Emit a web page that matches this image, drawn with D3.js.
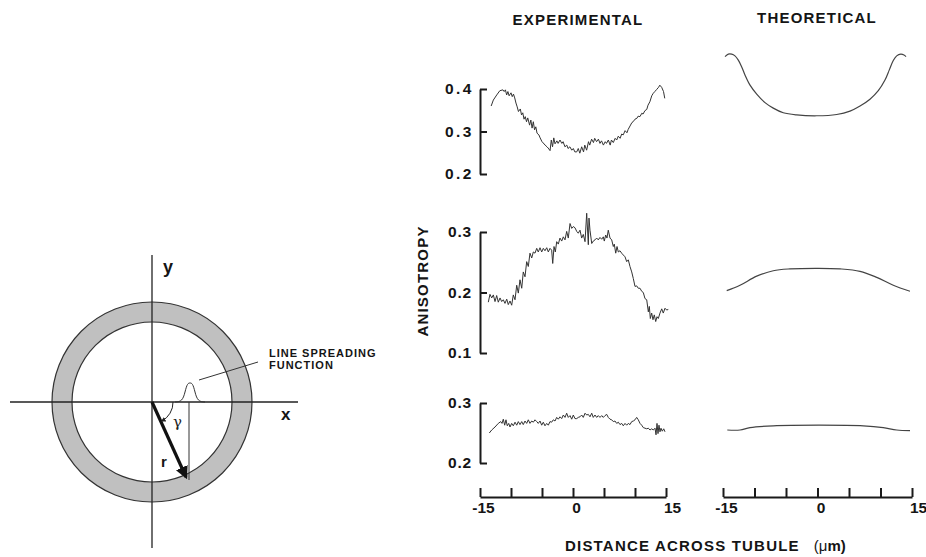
<!doctype html>
<html lang="en">
<head>
    <meta charset="UTF-8" />
    <title>Anisotropy across tubule</title>
    <script src="https://d3js.org/d3.v7.min.js"></script>
    <style>
        body, html {
            margin: 0;
            padding: 0;
            background: #fff;
            overflow: hidden;
        }
        svg {
            display: block;
            font-family: "Liberation Sans", Arial, Helvetica, sans-serif;
        }
        .lbl {
            font-weight: bold;
            fill: #151515;
        }
        .axis path, .axis line {
            stroke: #1a1a1a;
            stroke-width: 2px;
        }
        .axis text {
            font-family: "Liberation Sans", Arial, sans-serif;
            font-weight: bold;
            font-size: 15.5px;
            fill: #151515;
        }
        .trace {
            fill: none;
            stroke: #333;
            stroke-width: 1px;
        }
        .theory {
            fill: none;
            stroke: #444;
            stroke-width: 1.2px;
        }
    </style>
</head>
<body>
    <svg id="chart" width="926" height="557"></svg>

    <script>
        // distance across tubule (um) vs anisotropy
        const expTop = [
            [-13.2, 0.360], [-12.85, 0.374], [-12.3, 0.386], [-11.8, 0.396], [-11.3, 0.398], [-11.1, 0.394],
            [-10.9, 0.398], [-10.7, 0.386], [-10.5, 0.394], [-10.3, 0.384], [-10.0, 0.391], [-9.8, 0.382],
            [-9.6, 0.388], [-9.4, 0.379], [-9.2, 0.367], [-9.0, 0.358], [-8.8, 0.347], [-8.5, 0.353],
            [-8.3, 0.339], [-8.1, 0.344], [-7.9, 0.329], [-7.7, 0.335], [-7.5, 0.323], [-7.3, 0.332],
            [-7.0, 0.315], [-6.8, 0.327], [-6.6, 0.308], [-6.4, 0.323], [-6.2, 0.304], [-6.0, 0.311],
            [-5.8, 0.296], [-5.5, 0.292], [-5.3, 0.285], [-5.0, 0.276], [-4.8, 0.273], [-4.5, 0.268],
            [-4.2, 0.264], [-4.0, 0.261], [-3.7, 0.255], [-3.5, 0.280], [-3.3, 0.264], [-3.1, 0.285],
            [-2.9, 0.271], [-2.6, 0.278], [-2.4, 0.272], [-2.1, 0.280], [-1.8, 0.272], [-1.6, 0.276],
            [-1.3, 0.264], [-1.0, 0.268], [-0.8, 0.260], [-0.5, 0.264], [-0.2, 0.256], [0.05, 0.260],
            [0.3, 0.252], [0.6, 0.252], [0.85, 0.260], [1.1, 0.249], [1.4, 0.264], [1.7, 0.252],
            [1.9, 0.268], [2.2, 0.256], [2.5, 0.276], [2.7, 0.268], [3.0, 0.282], [3.3, 0.274],
            [3.5, 0.284], [3.8, 0.276], [4.1, 0.282], [4.35, 0.272], [4.6, 0.278], [4.9, 0.268],
            [5.2, 0.276], [5.4, 0.272], [5.7, 0.280], [6.0, 0.268], [6.2, 0.280], [6.5, 0.274],
            [6.8, 0.284], [7.05, 0.280], [7.3, 0.289], [7.6, 0.284], [7.85, 0.294], [8.1, 0.292],
            [8.4, 0.302], [8.7, 0.297], [8.9, 0.305], [9.2, 0.313], [9.5, 0.321], [9.7, 0.323],
            [10.0, 0.329], [10.3, 0.331], [10.5, 0.336], [10.8, 0.335], [11.1, 0.343], [11.3, 0.341],
            [11.6, 0.349], [11.9, 0.352], [12.1, 0.362], [12.4, 0.370], [12.7, 0.384], [12.95, 0.390],
            [13.2, 0.394], [13.5, 0.399], [13.8, 0.404], [14.0, 0.409], [14.3, 0.404], [14.6, 0.394],
            [14.8, 0.378]
        ];
        const expMid = [
            [-13.66, 0.184], [-13.39, 0.197], [-13.11, 0.191], [-12.85, 0.196], [-12.58, 0.185], [-12.31, 0.195],
            [-12.05, 0.184], [-11.77, 0.191], [-11.50, 0.185], [-11.24, 0.188], [-10.97, 0.182], [-10.69, 0.189],
            [-10.44, 0.180], [-10.16, 0.186], [-9.89, 0.179], [-9.63, 0.196], [-9.35, 0.188], [-9.08, 0.212],
            [-8.82, 0.199], [-8.55, 0.221], [-8.27, 0.207], [-8.02, 0.234], [-7.74, 0.226], [-7.47, 0.251],
            [-7.21, 0.243], [-6.94, 0.265], [-6.66, 0.257], [-6.40, 0.267], [-6.13, 0.265], [-5.85, 0.273],
            [-5.60, 0.267], [-5.32, 0.274], [-5.05, 0.267], [-4.79, 0.273], [-4.52, 0.269], [-4.24, 0.274],
            [-3.98, 0.267], [-3.71, 0.273], [-3.44, 0.270], [-3.27, 0.248], [-3.06, 0.276], [-2.85, 0.267],
            [-2.63, 0.284], [-2.37, 0.280], [-2.10, 0.290], [-1.82, 0.285], [-1.56, 0.292], [-1.29, 0.287],
            [-1.02, 0.301], [-0.76, 0.290], [-0.48, 0.314], [-0.21, 0.306], [0.05, 0.309], [0.32, 0.307],
            [0.60, 0.301], [0.85, 0.298], [1.13, 0.303], [1.40, 0.290], [1.66, 0.296], [1.94, 0.284],
            [2.21, 0.331], [2.47, 0.279], [2.58, 0.323], [2.74, 0.303], [3.02, 0.281], [3.27, 0.285],
            [3.55, 0.287], [3.82, 0.290], [4.08, 0.287], [4.35, 0.291], [4.63, 0.288], [4.89, 0.292],
            [5.05, 0.285], [5.27, 0.295], [5.48, 0.290], [5.69, 0.303], [5.97, 0.290], [6.24, 0.287],
            [6.50, 0.276], [6.66, 0.280], [6.89, 0.265], [7.10, 0.276], [7.31, 0.267], [7.58, 0.269],
            [7.85, 0.265], [8.11, 0.262], [8.39, 0.259], [8.66, 0.251], [8.92, 0.254], [9.19, 0.243],
            [9.47, 0.234], [9.73, 0.223], [10.0, 0.210], [10.27, 0.211], [10.53, 0.207], [10.81, 0.207],
            [11.08, 0.202], [11.34, 0.200], [11.61, 0.190], [11.89, 0.188], [12.15, 0.168], [12.31, 0.177],
            [12.47, 0.157], [12.69, 0.166], [12.90, 0.155], [13.11, 0.163], [13.34, 0.152], [13.55, 0.160],
            [13.76, 0.157], [14.03, 0.166], [14.31, 0.173], [14.56, 0.166], [14.84, 0.174], [15.11, 0.171],
            [15.37, 0.172]
        ];
        const expBot = [
            [-13.50, 0.250], [-13.11, 0.255], [-12.58, 0.260], [-12.05, 0.266], [-11.66, 0.269], [-11.45, 0.266],
            [-11.24, 0.273], [-11.02, 0.263], [-10.81, 0.272], [-10.60, 0.262], [-10.37, 0.266], [-10.16, 0.260],
            [-9.89, 0.266], [-9.63, 0.262], [-9.35, 0.268], [-9.08, 0.263], [-8.82, 0.269], [-8.55, 0.264],
            [-8.27, 0.269], [-8.02, 0.264], [-7.74, 0.270], [-7.47, 0.266], [-7.21, 0.272], [-6.94, 0.266],
            [-6.66, 0.270], [-6.40, 0.268], [-6.13, 0.272], [-5.85, 0.269], [-5.60, 0.266], [-5.32, 0.270],
            [-5.05, 0.263], [-4.79, 0.268], [-4.52, 0.262], [-4.24, 0.266], [-3.98, 0.263], [-3.71, 0.269],
            [-3.44, 0.268], [-3.18, 0.272], [-2.90, 0.270], [-2.63, 0.276], [-2.37, 0.273], [-2.10, 0.277],
            [-1.82, 0.274], [-1.56, 0.280], [-1.29, 0.276], [-1.02, 0.283], [-0.76, 0.276], [-0.48, 0.279],
            [-0.21, 0.273], [0.05, 0.280], [0.32, 0.274], [0.60, 0.274], [0.85, 0.276], [1.13, 0.277],
            [1.40, 0.280], [1.66, 0.276], [1.94, 0.283], [2.21, 0.280], [2.47, 0.281], [2.74, 0.277],
            [3.02, 0.283], [3.27, 0.276], [3.55, 0.280], [3.82, 0.276], [4.08, 0.279], [4.35, 0.276],
            [4.63, 0.279], [4.89, 0.276], [5.16, 0.279], [5.44, 0.281], [5.69, 0.276], [5.97, 0.273],
            [6.24, 0.272], [6.50, 0.269], [6.77, 0.270], [7.05, 0.266], [7.31, 0.268], [7.58, 0.264],
            [7.85, 0.266], [8.11, 0.262], [8.39, 0.266], [8.66, 0.263], [8.92, 0.266], [9.19, 0.264],
            [9.47, 0.269], [9.73, 0.270], [10.0, 0.272], [10.27, 0.276], [10.53, 0.272], [10.81, 0.266],
            [11.08, 0.263], [11.34, 0.259], [11.61, 0.258], [11.89, 0.257], [12.15, 0.258], [12.42, 0.255],
            [12.69, 0.257], [12.95, 0.255], [13.23, 0.258], [13.39, 0.247], [13.55, 0.266], [13.71, 0.249],
            [13.87, 0.263], [14.03, 0.252], [14.19, 0.258], [14.40, 0.253], [14.63, 0.257], [14.84, 0.252]
        ];
        const theoTop = [
            [-14.68, 0.476], [-14.16, 0.482], [-13.62, 0.482], [-13.10, 0.478], [-12.57, 0.468], [-12.03, 0.452],
            [-11.51, 0.433], [-10.71, 0.409], [-9.65, 0.388], [-8.33, 0.368], [-7.02, 0.355], [-5.43, 0.344],
            [-3.30, 0.339], [-0.13, 0.337], [3.05, 0.340], [5.16, 0.348], [6.75, 0.360], [8.33, 0.376],
            [9.65, 0.396], [10.71, 0.421], [11.40, 0.445], [12.03, 0.467], [12.57, 0.478], [13.21, 0.482],
            [13.73, 0.480], [14.05, 0.476]
        ];
        const theoMid = [
            [-14.41, 0.203], [-12.30, 0.212], [-9.65, 0.227], [-7.02, 0.236], [-4.37, 0.239], [0.13, 0.240],
            [3.57, 0.239], [6.75, 0.235], [9.40, 0.225], [12.03, 0.212], [14.68, 0.202]
        ];
        const theoBot = [
            [-14.32, 0.255], [-12.30, 0.255], [-10.71, 0.259], [-7.02, 0.262], [0.13, 0.263], [7.27, 0.262],
            [10.44, 0.259], [12.57, 0.255], [14.68, 0.254]
        ];

        const xTicks = [-15, -10, -5, 0, 5, 10, 15];
        const xTickLabels = [-15, 0, 15];
        const yTicksTop = [0.2, 0.3, 0.4];
        const yTicksMid = [0.1, 0.2, 0.3];
        const yTicksBot = [0.2, 0.3];

        const svg = d3.select("#chart");

        const expX = d3.scaleLinear().domain([-15, 15]).range([480, 666]);
        const theoX = d3.scaleLinear().domain([-15, 15]).range([723, 912]);

        const panels = [
            { y: d3.scaleLinear().domain([0.2, 0.4]).range([174, 89]), ticks: yTicksTop, spacing: 2.5, pad: 6, exp: expTop, theo: theoTop },
            { y: d3.scaleLinear().domain([0.1, 0.3]).range([353, 232]), ticks: yTicksMid, spacing: 0.8, pad: 8, exp: expMid, theo: theoMid },
            { y: d3.scaleLinear().domain([0.2, 0.3]).range([463, 403]), ticks: yTicksBot, spacing: 0.8, pad: 8, exp: expBot, theo: theoBot }
        ];

        panels.forEach(function (p) {
            const yAxis = d3.axisLeft(p.y)
                .tickValues(p.ticks)
                .tickFormat(d3.format(".1f"))
                .tickSize(-7)
                .tickSizeOuter(0)
                .tickPadding(p.pad);
            const g = svg.append("g")
                .attr("class", "axis")
                .attr("transform", "translate(480,0)")
                .call(yAxis);
            g.selectAll("text").attr("letter-spacing", p.spacing);

            svg.append("path")
                .datum(p.exp)
                .attr("class", "trace")
                .attr("d", d3.line().x(d => expX(d[0])).y(d => p.y(d[1])));

            svg.append("path")
                .datum(p.theo)
                .attr("class", "theory")
                .attr("d", d3.line().curve(d3.curveCatmullRom).x(d => theoX(d[0])).y(d => p.y(d[1])));
        });

        [expX, theoX].forEach(function (sx) {
            const xAxis = d3.axisBottom(sx)
                .tickValues(xTicks)
                .tickFormat(d => xTickLabels.includes(d) ? d : "")
                .tickSize(-9)
                .tickSizeOuter(0)
                .tickPadding(5);
            svg.append("g")
                .attr("class", "axis")
                .attr("transform", "translate(0,497)")
                .call(xAxis)
                .selectAll("text")
                .attr("dx", d => d === 15 ? 6 : 3);
        });

        // titles
        svg.append("text").attr("class", "lbl").attr("x", 578).attr("y", 25)
            .attr("text-anchor", "middle").attr("font-size", 15).attr("letter-spacing", 1.2)
            .text("EXPERIMENTAL");
        svg.append("text").attr("class", "lbl").attr("x", 817).attr("y", 23)
            .attr("text-anchor", "middle").attr("font-size", 15).attr("letter-spacing", 1.2)
            .text("THEORETICAL");
        svg.append("text").attr("class", "lbl")
            .attr("transform", "translate(428,281) rotate(-90)")
            .attr("text-anchor", "middle").attr("font-size", 15).attr("letter-spacing", 1.2)
            .text("ANISOTROPY");
        const xl = svg.append("text").attr("class", "lbl").attr("x", 565).attr("y", 551)
            .attr("font-size", 15).attr("letter-spacing", 1.2);
        xl.append("tspan").text("DISTANCE ACROSS TUBULE");
        xl.append("tspan").attr("dx", 14).attr("font-weight", "normal").attr("letter-spacing", 0).text("(\u03bc");
        xl.append("tspan").attr("letter-spacing", 0).text("m)");

        // tubule cross-section diagram
        const cx = 152, cy = 402;
        const dia = svg.append("g");

        dia.append("path")
            .attr("d", d3.arc()({ innerRadius: 80, outerRadius: 100, startAngle: 0, endAngle: 2 * Math.PI }))
            .attr("transform", `translate(${cx},${cy})`)
            .attr("fill", "#c0c0c0")
            .attr("stroke", "#333")
            .attr("stroke-width", 1.2);

        dia.append("line").attr("x1", 10).attr("x2", 298).attr("y1", cy).attr("y2", cy)
            .attr("stroke", "#222").attr("stroke-width", 1.3);
        dia.append("line").attr("x1", cx).attr("x2", cx).attr("y1", 255).attr("y2", 548)
            .attr("stroke", "#222").attr("stroke-width", 1.3);

        dia.append("text").attr("class", "lbl").attr("x", 163).attr("y", 273).attr("font-size", 18).text("y");
        dia.append("text").attr("class", "lbl").attr("x", 281).attr("y", 420).attr("font-size", 17).text("x");

        // line spreading function bump
        dia.append("path")
            .attr("d", "M175,402 C181,402 183,400 185,392 C187,384 188,383 190,383 C192,383 193,384 195,392 C197,400 199,402 205,402")
            .attr("fill", "none").attr("stroke", "#333").attr("stroke-width", 1);
        dia.append("line").attr("x1", 199).attr("y1", 380).attr("x2", 258).attr("y2", 362)
            .attr("stroke", "#333").attr("stroke-width", 1);
        const lsf = dia.append("text").attr("class", "lbl").attr("font-size", 11).attr("letter-spacing", 1);
        lsf.append("tspan").attr("x", 269).attr("y", 357).text("LINE SPREADING");
        lsf.append("tspan").attr("x", 269).attr("y", 369).text("FUNCTION");

        // vertical projection line
        dia.append("line").attr("x1", 189).attr("x2", 189).attr("y1", cy).attr("y2", 480)
            .attr("stroke", "#333").attr("stroke-width", 1);

        // radius arrow
        const defs = svg.append("defs");
        defs.append("marker").attr("id", "head").attr("viewBox", "0 0 10 10")
            .attr("refX", 8).attr("refY", 5).attr("markerWidth", 4).attr("markerHeight", 4)
            .attr("orient", "auto").attr("markerUnits", "strokeWidth")
            .append("path").attr("d", "M0,0 L10,5 L0,10 z").attr("fill", "#111");
        defs.append("marker").attr("id", "headSmall").attr("viewBox", "0 0 10 10")
            .attr("refX", 8).attr("refY", 5).attr("markerWidth", 5).attr("markerHeight", 5)
            .attr("orient", "auto").attr("markerUnits", "strokeWidth")
            .append("path").attr("d", "M0,0 L10,5 L0,10 z").attr("fill", "#222");

        dia.append("line").attr("x1", cx).attr("y1", cy).attr("x2", 186).attr("y2", 477)
            .attr("stroke", "#111").attr("stroke-width", 3.2).attr("marker-end", "url(#head)");

        // angle gamma
        const ang = Math.atan2(80, 36);
        const ra = 21;
        dia.append("path")
            .attr("d", `M${cx + ra},${cy} A${ra},${ra} 0 0 1 ${cx + ra * Math.cos(ang) + 1},${cy + ra * Math.sin(ang)}`)
            .attr("fill", "none").attr("stroke", "#222").attr("stroke-width", 1)
            .attr("marker-end", "url(#headSmall)");
        dia.append("text").attr("x", 173).attr("y", 427).attr("font-size", 15)
            .attr("font-family", "DejaVu Serif, serif").attr("fill", "#222").text("\u03b3");
        dia.append("text").attr("class", "lbl").attr("x", 161).attr("y", 467).attr("font-size", 15).text("r");
    </script>
</body>
</html>
